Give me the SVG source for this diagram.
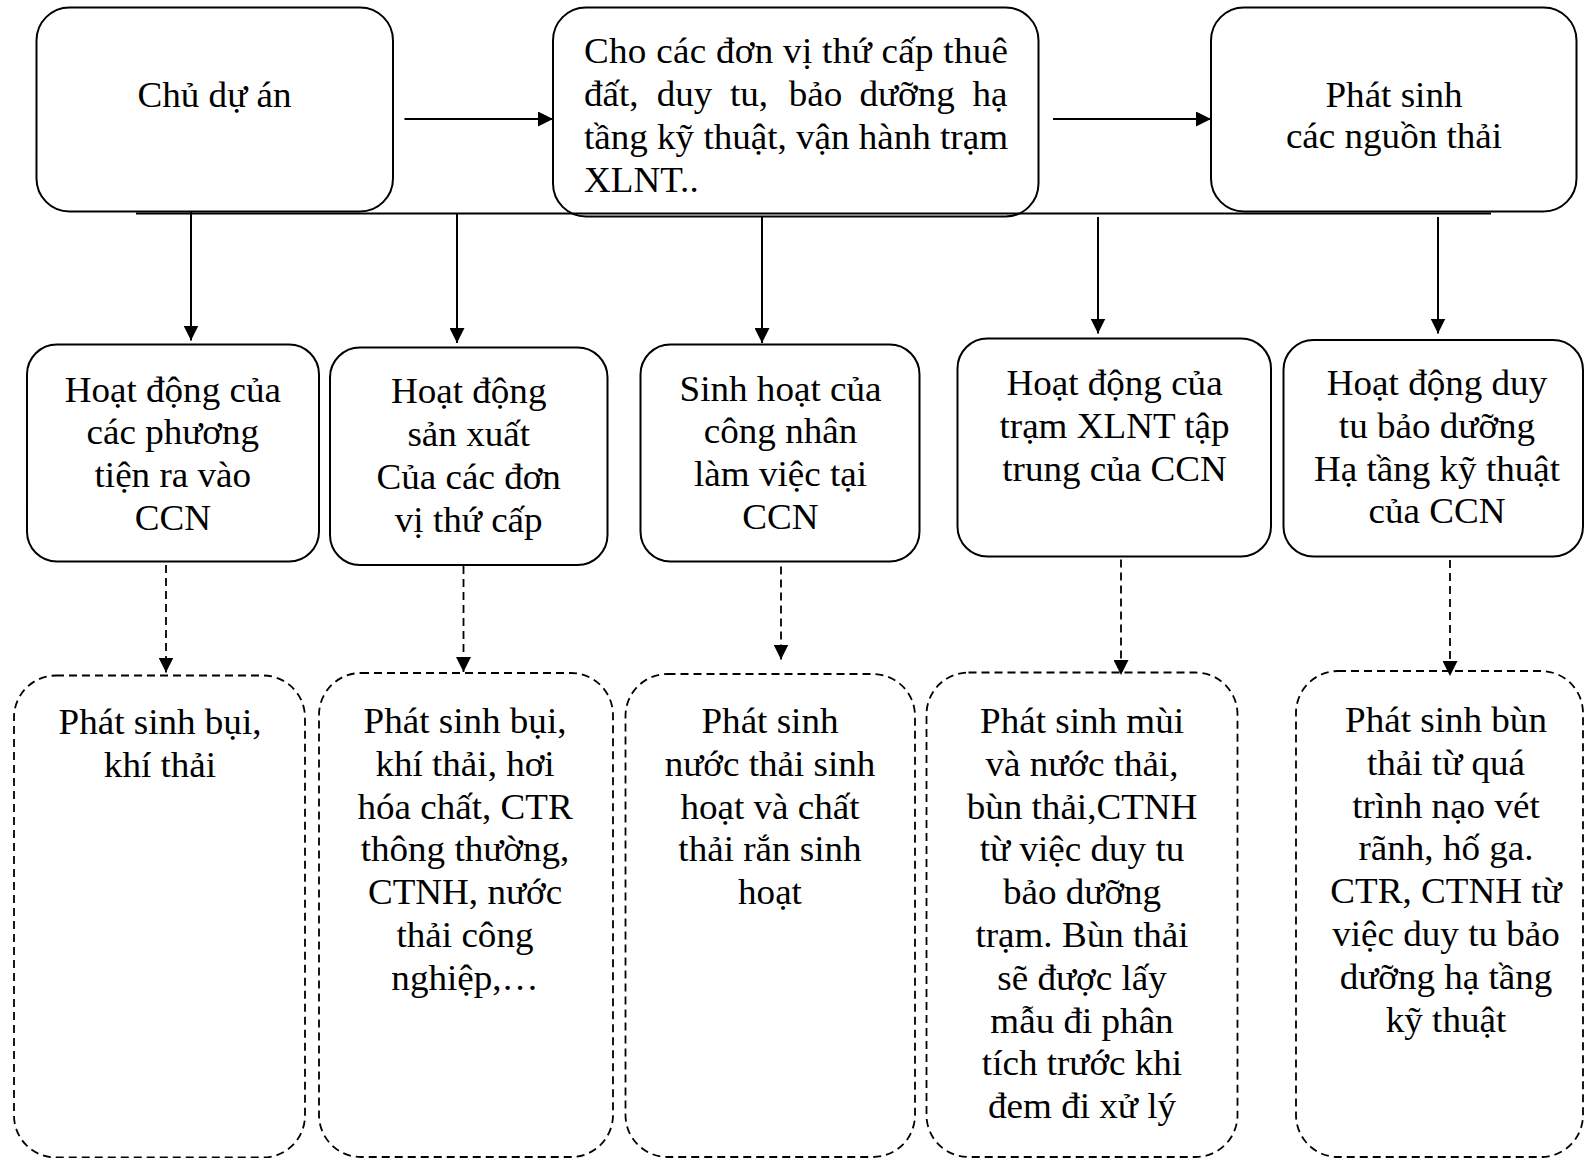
<svg xmlns="http://www.w3.org/2000/svg" width="1585" height="1158" viewBox="0 0 1585 1158">
<defs>
<style>
.box{fill:#fff;stroke:#000;stroke-width:2}
.dbox{fill:#fff;stroke:#000;stroke-width:1.8;stroke-dasharray:8 5}
.t{font-family:"Liberation Serif","Times New Roman",serif;font-size:35px;fill:#000;text-anchor:middle}
.tl{font-family:"Liberation Serif","Times New Roman",serif;font-size:35px;fill:#000;text-anchor:start}
.conn{stroke:#000;stroke-width:2;fill:none}
.dconn{stroke:#000;stroke-width:1.8;fill:none;stroke-dasharray:8 5}
</style>
<marker id="ah" viewBox="0 0 15 15" refX="15" refY="7.5" markerWidth="15" markerHeight="15" markerUnits="userSpaceOnUse" orient="auto">
<path d="M0,0 L15,7.5 L0,15 Z" fill="#000"/>
</marker>
</defs>
<rect width="1585" height="1158" fill="#fff"/>

<g id="n-chu-du-an">
<rect class="box" x="36.5" y="7.5" width="356.5" height="204" rx="33"/>
<text class="t" transform="translate(214.5 0) scale(1.06 1)" x="0" y="106.7">Chủ dự án</text>
</g>

<g id="n-cho-thue">
<rect class="box" x="553" y="7.5" width="485.5" height="209" rx="33"/>
<g transform="translate(584 0) scale(1.06 1)">
<text class="tl" x="0" y="63.5" textLength="400" lengthAdjust="spacing">Cho các đơn vị thứ cấp thuê</text>
<text class="tl" y="106.3"><tspan x="0">đất,</tspan><tspan x="68.6">duy</tspan><tspan x="137.7">tu,</tspan><tspan x="193.2">bảo</tspan><tspan x="259.9">dưỡng</tspan><tspan x="366.5">hạ</tspan></text>
<text class="tl" x="0" y="149.1" textLength="400" lengthAdjust="spacing">tầng kỹ thuật, vận hành trạm</text>
<text class="tl" x="0" y="191.9">XLNT..</text>
</g>
</g>

<g id="n-phat-sinh">
<rect class="box" x="1211" y="7.5" width="365.5" height="204" rx="33"/>
<text class="t" transform="translate(1394 0) scale(1.06 1)"><tspan x="0" y="107">Phát sinh</tspan><tspan x="0" y="148">các nguồn thải</tspan></text>
</g>

<g id="n-phuong-tien">
<rect class="box" x="27" y="344.5" width="292" height="217" rx="30"/>
<text class="t" transform="translate(172.8 0) scale(1.06 1)"><tspan x="0" y="401.7">Hoạt động của</tspan><tspan x="0" y="444.5">các phương</tspan><tspan x="0" y="487.3">tiện ra vào</tspan><tspan x="0" y="530">CCN</tspan></text>
</g>

<g id="n-san-xuat">
<rect class="box" x="330" y="347.5" width="277.5" height="217.5" rx="30"/>
<text class="t" transform="translate(468.7 0) scale(1.06 1)"><tspan x="0" y="403.5">Hoạt động</tspan><tspan x="0" y="446.3">sản xuất</tspan><tspan x="0" y="489.1">Của các đơn</tspan><tspan x="0" y="531.9">vị thứ cấp</tspan></text>
</g>

<g id="n-cong-nhan">
<rect class="box" x="640.5" y="344.5" width="279" height="217" rx="30"/>
<text class="t" transform="translate(780.5 0) scale(1.06 1)"><tspan x="0" y="400.7">Sinh hoạt của</tspan><tspan x="0" y="443.5">công nhân</tspan><tspan x="0" y="486.3">làm việc tại</tspan><tspan x="0" y="529.1">CCN</tspan></text>
</g>

<g id="n-tram-xlnt">
<rect class="box" x="957.5" y="338.5" width="313.5" height="218" rx="30"/>
<text class="t" transform="translate(1114.5 0) scale(1.06 1)"><tspan x="0" y="395">Hoạt động của</tspan><tspan x="0" y="437.8">trạm XLNT tập</tspan><tspan x="0" y="480.6">trung của CCN</tspan></text>
</g>

<g id="n-duy-tu">
<rect class="box" x="1283.5" y="340" width="299.5" height="216.5" rx="30"/>
<text class="t" transform="translate(1437 0) scale(1.06 1)"><tspan x="0" y="395">Hoạt động duy</tspan><tspan x="0" y="437.8">tu bảo dưỡng</tspan><tspan x="0" y="480.6">Hạ tầng kỹ thuật</tspan><tspan x="0" y="523.4">của CCN</tspan></text>
</g>

<g id="n-bui-khi-thai">
<rect class="dbox" x="14" y="675.5" width="291" height="482" rx="42"/>
<text class="t" transform="translate(160 0) scale(1.06 1)"><tspan x="0" y="734">Phát sinh bụi,</tspan><tspan x="0" y="776.8">khí thải</tspan></text>
</g>

<g id="n-bui-hoa-chat">
<rect class="dbox" x="319" y="673" width="294" height="484" rx="42"/>
<text class="t" transform="translate(465 0) scale(1.06 1)"><tspan x="0" y="733">Phát sinh bụi,</tspan><tspan x="0" y="775.8">khí thải, hơi</tspan><tspan x="0" y="818.6">hóa chất, CTR</tspan><tspan x="0" y="861.4">thông thường,</tspan><tspan x="0" y="904.2">CTNH, nước</tspan><tspan x="0" y="947">thải công</tspan><tspan x="0" y="989.8">nghiệp,…</tspan></text>
</g>

<g id="n-nuoc-thai-sh">
<rect class="dbox" x="625.5" y="674" width="289.5" height="483" rx="42"/>
<text class="t" transform="translate(770 0) scale(1.06 1)"><tspan x="0" y="733">Phát sinh</tspan><tspan x="0" y="775.8">nước thải sinh</tspan><tspan x="0" y="818.6">hoạt và chất</tspan><tspan x="0" y="861.4">thải rắn sinh</tspan><tspan x="0" y="904.2">hoạt</tspan></text>
</g>

<g id="n-mui-bun">
<rect class="dbox" x="926.5" y="672.5" width="311" height="484.5" rx="42"/>
<text class="t" transform="translate(1082 0) scale(1.06 1)"><tspan x="0" y="733">Phát sinh mùi</tspan><tspan x="0" y="775.8">và nước thải,</tspan><tspan x="0" y="818.6">bùn thải,CTNH</tspan><tspan x="0" y="861.4">từ việc duy tu</tspan><tspan x="0" y="904.2">bảo dưỡng</tspan><tspan x="0" y="947">trạm. Bùn thải</tspan><tspan x="0" y="989.8">sẽ được lấy</tspan><tspan x="0" y="1032.6">mẫu đi phân</tspan><tspan x="0" y="1075.4">tích trước khi</tspan><tspan x="0" y="1118.2">đem đi xử lý</tspan></text>
</g>

<g id="n-bun-nao-vet">
<rect class="dbox" x="1296" y="671" width="287" height="486" rx="42"/>
<text class="t" transform="translate(1446 0) scale(1.06 1)"><tspan x="0" y="732">Phát sinh bùn</tspan><tspan x="0" y="774.8">thải từ quá</tspan><tspan x="0" y="817.6">trình nạo vét</tspan><tspan x="0" y="860.4">rãnh, hố ga.</tspan><tspan x="0" y="903.2">CTR, CTNH từ</tspan><tspan x="0" y="946">việc duy tu bảo</tspan><tspan x="0" y="988.8">dưỡng hạ tầng</tspan><tspan x="0" y="1031.6">kỹ thuật</tspan></text>
</g>

<g id="connectors">
<line class="conn" x1="136" y1="213.5" x2="1491" y2="213.5" stroke-width="2.4"/>
<line class="conn" x1="404.5" y1="119" x2="553" y2="119" marker-end="url(#ah)"/>
<line class="conn" x1="1053" y1="119" x2="1211" y2="119" marker-end="url(#ah)"/>
<line class="conn" x1="191" y1="211.5" x2="191" y2="340.5" marker-end="url(#ah)"/>
<line class="conn" x1="457" y1="213.5" x2="457" y2="343" marker-end="url(#ah)"/>
<line class="conn" x1="762" y1="216.5" x2="762" y2="343" marker-end="url(#ah)"/>
<line class="conn" x1="1098" y1="217" x2="1098" y2="333.5" marker-end="url(#ah)"/>
<line class="conn" x1="1438" y1="217" x2="1438" y2="333.5" marker-end="url(#ah)"/>
<line class="dconn" x1="166" y1="565" x2="166" y2="672.5" marker-end="url(#ah)"/>
<line class="dconn" x1="463.5" y1="566" x2="463.5" y2="672" marker-end="url(#ah)"/>
<line class="dconn" x1="781" y1="566.5" x2="781" y2="659.5" marker-end="url(#ah)"/>
<line class="dconn" x1="1121" y1="559.5" x2="1121" y2="675" marker-end="url(#ah)"/>
<line class="dconn" x1="1450" y1="560" x2="1450" y2="676" marker-end="url(#ah)"/>
</g>
</svg>
